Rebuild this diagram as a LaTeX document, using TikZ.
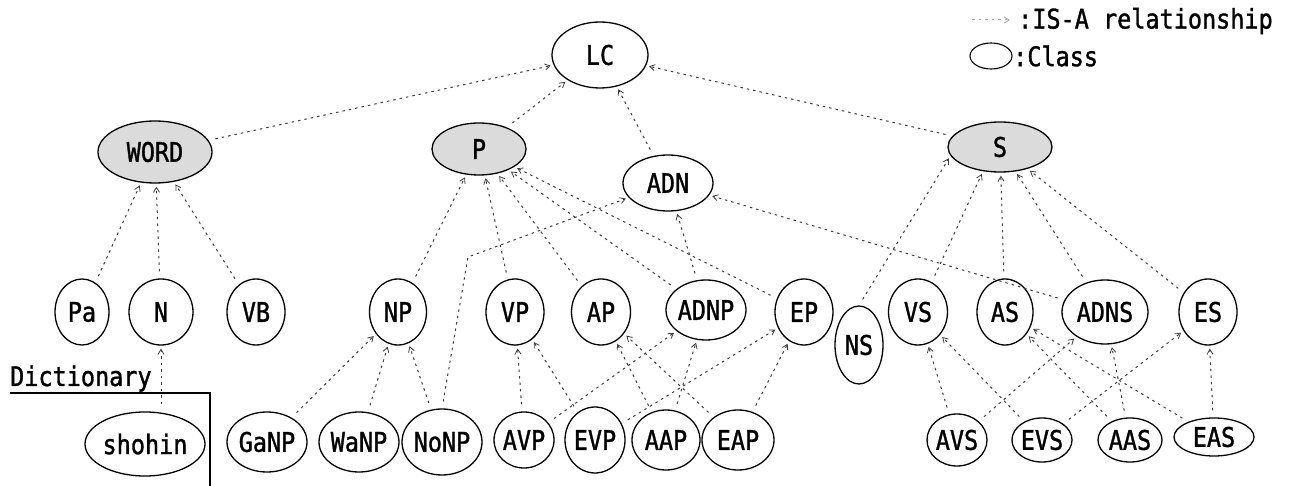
\documentclass[tikz,border=0pt]{standalone}
\usepackage{fontspec}
\newfontfamily\dmono[FakeStretch=0.87,FakeBold=1.2]{DejaVu Sans Mono}
\usetikzlibrary{shapes.geometric,arrows.meta}
\begin{document}
\begin{tikzpicture}[x=1pt,y=-1pt,
  every node/.style={font=\dmono\fontsize{27}{30}\selectfont},
  cls/.style={ellipse,draw=black,line width=1.3pt,inner sep=0pt},
  sup/.style={cls,fill=black!14},
  isa/.style={draw=black!75,line width=1pt,dash pattern=on 2.5pt off 4pt,
    -{Straight Barb[length=5pt,width=6pt,line width=0.8pt]},shorten <=7pt,shorten >=3pt}]
\useasboundingbox (0,0) rectangle (1294,486);
% top levels
\node[cls,minimum width=96pt,minimum height=66pt] (LC) at (600,55) {LC};
\node[sup,minimum width=114pt,minimum height=62pt] (WORD) at (155,152) {WORD};
\node[sup,minimum width=94pt,minimum height=52pt] (P) at (479,149) {P};
\node[cls,minimum width=90pt,minimum height=56pt] (ADN) at (668,183) {ADN};
\node[sup,minimum width=104pt,minimum height=50pt] (S) at (1000,147) {S};
% middle row
\node[cls,minimum width=54pt,minimum height=66pt] (Pa) at (82,312) {Pa};
\node[cls,minimum width=64pt,minimum height=66pt] (N) at (161,312) {N};
\node[cls,minimum width=58pt,minimum height=66pt] (VB) at (256,312) {VB};
\node[cls,minimum width=57pt,minimum height=66pt] (NP) at (398,312) {NP};
\node[cls,minimum width=58pt,minimum height=66pt] (VP) at (515,312) {VP};
\node[cls,minimum width=59pt,minimum height=66pt] (AP) at (601,312) {AP};
\node[cls,minimum width=78pt,minimum height=60pt] (ADNP) at (706,310) {ADNP};
\node[cls,minimum width=58pt,minimum height=66pt] (EP) at (804,312) {EP};
\node[cls,minimum width=48pt,minimum height=78pt] (NS) at (859,345) {NS};
\node[cls,minimum width=59pt,minimum height=66pt] (VS) at (918,312) {VS};
\node[cls,minimum width=56pt,minimum height=66pt] (AS) at (1005,312) {AS};
\node[cls,minimum width=86pt,minimum height=64pt] (ADNS) at (1105,312) {ADNS};
\node[cls,minimum width=58pt,minimum height=66pt] (ES) at (1208,312) {ES};
% bottom row
\node[cls,minimum width=114pt,minimum height=64pt] (shohin) at (145,444) {shohin};
\node[cls,minimum width=70pt,minimum height=60pt] (GaNP) at (267,442) {GaNP};
\node[cls,minimum width=74pt,minimum height=60pt] (WaNP) at (359,442) {WaNP};
\node[cls,minimum width=80pt,minimum height=66pt] (NoNP) at (442,442) {NoNP};
\node[cls,minimum width=56pt,minimum height=56pt] (AVP) at (524,440) {AVP};
\node[cls,minimum width=58pt,minimum height=66pt] (EVP) at (595,440) {EVP};
\node[cls,minimum width=68pt,minimum height=60pt] (AAP) at (666,440) {AAP};
\node[cls,minimum width=72pt,minimum height=60pt] (EAP) at (738,440) {EAP};
\node[cls,minimum width=59pt,minimum height=52pt] (AVS) at (957,440) {AVS};
\node[cls,minimum width=60pt,minimum height=44pt] (EVS) at (1042,440) {EVS};
\node[cls,minimum width=64pt,minimum height=44pt] (AAS) at (1130,440) {AAS};
\node[cls,minimum width=80pt,minimum height=38pt] (EAS) at (1214,437) {EAS};
% dictionary
\node[anchor=base west,inner sep=0pt] (dict) at (10,386) {Dictionary};
\coordinate (d1) at (10,393);
\coordinate (d2) at (210,393);
\coordinate (d3) at (210,486);
\draw[line width=1.2pt] (d1) -- (d2) -- (d3);
% legend
\coordinate (la) at (972,20);
\coordinate (lb) at (1010,20);
\draw[isa,draw=black!35,shorten <=0pt,shorten >=0pt] (la) -- (lb);
\node[anchor=west,inner sep=0pt] (lt1) at (1018,21) {:IS-A relationship};
\node[cls,line width=1.1pt,minimum width=42pt,minimum height=26pt] (lell) at (991,56) {};
\node[anchor=west,inner sep=0pt] (lt2) at (1013,56) {:Class};
% IS-A edges
\draw[isa] (WORD) -- (LC);
\draw[isa] (P) -- (LC);
\draw[isa] (ADN) -- (LC);
\draw[isa] (S) -- (LC);
\draw[isa] (Pa) -- (WORD);
\draw[isa] (N) -- (WORD);
\draw[isa] (VB) -- (WORD);
\draw[isa] (shohin.north -| N.south) -- (N.south);
\draw[isa] (NP) -- (P);
\draw[isa] (VP) -- (P);
\draw[isa] (AP) -- (P);
\draw[isa] (ADNP) -- (P);
\draw[isa] (EP) -- (P);
\draw[isa] (ADNP) -- (ADN);
\coordinate (bend) at (468,257);
\draw[isa] (NoNP.north) -- (bend) -- (ADN);
\draw[isa] (ADNS) -- (ADN);
\draw[isa] (NS.north) -- (S.190);
\draw[isa] (VS) -- (S.235);
\draw[isa] (AS) -- (S);
\draw[isa] (ADNS) -- (S);
\draw[isa] (ES) -- (S);
\draw[isa] (GaNP) -- (NP);
\draw[isa] (WaNP) -- (NP);
\draw[isa] (NoNP) -- (NP);
\draw[isa] (AVP) -- (VP);
\draw[isa] (AVP) -- (ADNP);
\draw[isa] (EVP) -- (VP);
\draw[isa] (EVP) -- (EP);
\draw[isa] (AAP) -- (AP);
\draw[isa] (AAP) -- (ADNP);
\draw[isa] (EAP) -- (AP);
\draw[isa] (EAP) -- (EP);
\draw[isa] (AVS) -- (VS);
\draw[isa] (AVS) -- (ADNS);
\draw[isa] (EVS) -- (VS);
\draw[isa] (EVS) -- (ES);
\draw[isa] (AAS) -- (AS);
\draw[isa] (AAS) -- (ADNS);
\draw[isa] (EAS) -- (AS);
\draw[isa] (EAS) -- (ES);
\end{tikzpicture}
\end{document}
